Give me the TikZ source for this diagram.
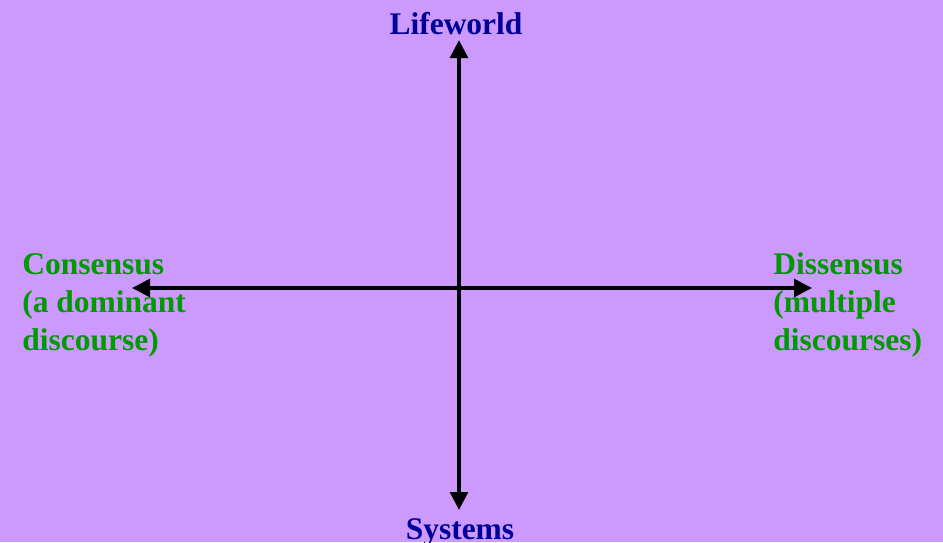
\documentclass[tikz,border=0pt]{standalone}
\usepackage{fontspec}
\setmainfont{Liberation Serif}
\usetikzlibrary{arrows.meta}
\definecolor{bgpurple}{HTML}{CC99FF}
\definecolor{axisblue}{HTML}{000099}
\definecolor{poolgreen}{HTML}{009900}

\begin{document}
\begin{tikzpicture}[
    x=0.025cm, y=-0.025cm,
    axis/.style={line width=2.8pt, {Triangle[length=0.45cm, width=0.44cm]}-{Triangle[length=0.45cm, width=0.44cm]}},
    pole/.style={font=\bfseries\fontsize{22.4}{26.7}\selectfont, inner sep=0pt},
    vpole/.style={pole, text=axisblue, anchor=base},
    hpole/.style={pole, text=poolgreen, anchor=base west, align=left}
]

% Background
\fill[bgpurple] (0,0) rectangle (943,542);
\useasboundingbox (0,0) rectangle (943,542);

% Axis end points
\coordinate (top) at (459,40);
\coordinate (bottom) at (459,510);
\coordinate (left) at (132,288);
\coordinate (right) at (812,288);

% Axes
\draw[axis] (top) -- (bottom);
\draw[axis] (left) -- (right);

% Labels
\node[vpole] (lifeworld) at (456,34) {Lifeworld};
\node[vpole] (systems) at (460,539) {Systems};
\node[hpole] (consensus) at (22,350) {Consensus\\(a dominant\\discourse)};
\node[hpole] (dissensus) at (773,350) {Dissensus\\(multiple\\discourses)};

\end{tikzpicture}
\end{document}
